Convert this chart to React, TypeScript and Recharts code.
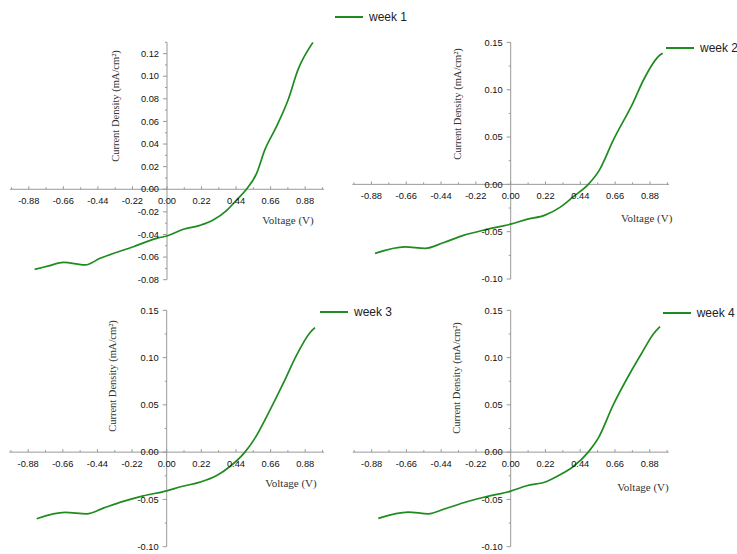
import React from 'react';
import { LineChart, Line, XAxis, YAxis, ReferenceLine } from 'recharts';

// voltage (V) / current density (mA/cm2)
const week1V = [-0.843, -0.76, -0.659, -0.521, -0.426, -0.214, -0.066, 0, 0.104, 0.21, 0.294, 0.379, 0.443, 0.506, 0.57, 0.623, 0.697, 0.771, 0.834, 0.93];
const week1J = [-0.0708, -0.068, -0.0646, -0.0669, -0.0611, -0.0508, -0.0434, -0.0413, -0.0354, -0.0319, -0.0272, -0.0189, -0.0095, 0.0, 0.0138, 0.0348, 0.0554, 0.079, 0.1056, 0.13];

const week2V = [-0.857, -0.668, -0.541, -0.426, -0.299, -0.152, 0, 0.101, 0.217, 0.311, 0.395, 0.49, 0.56, 0.648, 0.775, 0.838, 0.943, 0.96];
const week2J = [-0.0729, -0.066, -0.0677, -0.0617, -0.0539, -0.0476, -0.042, -0.037, -0.0325, -0.0243, -0.0131, 0.0, 0.0151, 0.0468, 0.087, 0.11, 0.1367, 0.1385];

const week3V = [-0.826, -0.646, -0.508, -0.403, -0.276, -0.149, 0, 0.095, 0.212, 0.318, 0.402, 0.497, 0.561, 0.635, 0.741, 0.826, 0.91, 0.942];
const week3J = [-0.0705, -0.0638, -0.0652, -0.0592, -0.0521, -0.0462, -0.0409, -0.0363, -0.0317, -0.0247, -0.0152, 0.0, 0.0148, 0.0376, 0.0729, 0.1028, 0.1263, 0.1316];

const week4V = [-0.838, -0.648, -0.522, -0.416, -0.278, -0.152, 0, 0.101, 0.228, 0.312, 0.396, 0.491, 0.554, 0.649, 0.755, 0.829, 0.903, 0.945];
const week4J = [-0.0701, -0.0634, -0.0652, -0.0599, -0.0525, -0.0469, -0.0412, -0.0356, -0.031, -0.024, -0.0152, 0.0, 0.0148, 0.05, 0.0834, 0.1046, 0.125, 0.1327];

const xMajor = [-0.88, -0.66, -0.44, -0.22, 0, 0.22, 0.44, 0.66, 0.88];
const xMinor = [-0.99, -0.77, -0.55, -0.33, -0.11, 0.11, 0.33, 0.55, 0.77, 0.99];

const yMajorA = [-0.08, -0.06, -0.04, -0.02, 0, 0.02, 0.04, 0.06, 0.08, 0.1, 0.12];
const yMinorA = [-0.07, -0.05, -0.03, -0.01, 0.01, 0.03, 0.05, 0.07, 0.09, 0.11, 0.13];
const yMajorB = [-0.1, -0.05, 0, 0.05, 0.1, 0.15];
const yMinorB = [-0.075, -0.025, 0.025, 0.075, 0.125];

const LINE_COLOR = '#1e8c1e';
const AXIS_COLOR = '#999';
const TEXT_COLOR = '#111';
const SANS = '"Liberation Sans", Arial, sans-serif';
const SERIF = '"Liberation Serif", "Times New Roman", serif';
const AXIS_SIZE = 1;

const panels = [
    {
        name: 'week 1', v: week1V, j: week1J, yDomain: [-0.08, 0.13], yMajor: yMajorA, yMinor: yMinorA,
        box: { left: 0, top: 0, width: 368, height: 290 },
        margin: { top: 42.3, right: 44, bottom: 10.3, left: 10 },
        xTitle: [288, 224], yTitle: [115, 106], legend: [335, 17],
    },
    {
        name: 'week 2', v: week2V, j: week2J, yDomain: [-0.1, 0.15], yMajor: yMajorB, yMinor: yMinorB,
        box: { left: 344, top: 0, width: 393, height: 290 },
        margin: { top: 42.4, right: 68, bottom: 11, left: 8.4 },
        xTitle: [302.7, 221.7], yTitle: [113.7, 104], legend: [322, 47.7],
    },
    {
        name: 'week 3', v: week3V, j: week3J, yDomain: [-0.1, 0.15], yMajor: yMajorB, yMinor: yMinorB,
        box: { left: 0, top: 290, width: 368, height: 264 },
        margin: { top: 20.3, right: 43.9, bottom: 7.3, left: 9.3 },
        xTitle: [291, 197.3], yTitle: [112.7, 86], legend: [320, 21.7],
    },
    {
        name: 'week 4', v: week4V, j: week4J, yDomain: [-0.1, 0.15], yMajor: yMajorB, yMinor: yMinorB,
        box: { left: 344, top: 290, width: 393, height: 264 },
        margin: { top: 20.3, right: 68.3, bottom: 7.3, left: 8.7 },
        xTitle: [299, 200.7], yTitle: [112.7, 88], legend: [318.7, 23.3],
    },
];

const Panel = ({ p }: { p: typeof panels[number] }) => {
    const data = p.v.map((v, i) => ({ v, j: p.j[i] }));
    // axes take AXIS_SIZE px, so pull the margins in by that much
    const margin = { ...p.margin, left: p.margin.left - AXIS_SIZE, bottom: p.margin.bottom - AXIS_SIZE };
    const plotW = p.box.width - p.margin.left - p.margin.right;
    const plotH = p.box.height - p.margin.top - p.margin.bottom;
    const zeroX = p.margin.left + plotW / 2;
    const zeroY = p.margin.top + (p.yDomain[1] / (p.yDomain[1] - p.yDomain[0])) * plotH;

    const renderXTick = (props: any) => {
        const { x, payload } = props;
        const major = xMajor.includes(payload.value);
        return (
            <g>
                <line x1={x} x2={x} y1={zeroY} y2={zeroY - (major ? 3 : 2)} stroke={AXIS_COLOR} />
                {major && (
                    <text x={x} y={zeroY + 15} textAnchor="middle" fontSize={9.3} fontFamily={SANS} fill={TEXT_COLOR}>
                        {payload.value.toFixed(2)}
                    </text>
                )}
            </g>
        );
    };

    const renderYTick = (props: any) => {
        const { y, payload } = props;
        const major = p.yMajor.includes(payload.value);
        return (
            <g>
                <line x1={zeroX} x2={zeroX - (major ? 4 : 2)} y1={y} y2={y} stroke={AXIS_COLOR} />
                {major && (
                    <text x={zeroX - 8} y={y + 3.2} textAnchor="end" fontSize={9.3} fontFamily={SANS} fill={TEXT_COLOR}>
                        {payload.value.toFixed(2)}
                    </text>
                )}
            </g>
        );
    };

    return (
        <div style={{ position: 'absolute', left: p.box.left, top: p.box.top, width: p.box.width, height: p.box.height }}>
            <LineChart width={p.box.width} height={p.box.height} data={data} margin={margin} style={{ overflow: 'visible' }}>
                <XAxis
                    dataKey="v" type="number" domain={[-1, 1]} ticks={[...xMinor, ...xMajor]} interval={0}
                    height={AXIS_SIZE} axisLine={false} tickLine={false} tick={renderXTick} allowDataOverflow
                    label={{
                        content: () => (
                            <text x={p.xTitle[0]} y={p.xTitle[1]} textAnchor="middle" fontSize={11} fontFamily={SERIF} fill="#333">
                                Voltage (V)
                            </text>
                        ),
                    }}
                />
                <YAxis
                    type="number" domain={p.yDomain} ticks={[...p.yMinor, ...p.yMajor]} interval={0}
                    width={AXIS_SIZE} axisLine={false} tickLine={false} tick={renderYTick} allowDataOverflow
                    label={{
                        content: () => (
                            <text
                                x={p.yTitle[0]} y={p.yTitle[1]} textAnchor="middle" dominantBaseline="central"
                                fontSize={10.5} fontFamily={SERIF} fill="#333"
                                transform={`rotate(-90, ${p.yTitle[0]}, ${p.yTitle[1]})`}
                            >
                                Current Density (mA/cm²)
                            </text>
                        ),
                    }}
                />
                <ReferenceLine x={0} stroke={AXIS_COLOR} />
                <ReferenceLine y={0} stroke={AXIS_COLOR} />
                <Line type="monotone" dataKey="j" stroke={LINE_COLOR} strokeWidth={1.7} dot={false} isAnimationActive={false} />
            </LineChart>
            <div style={{ position: 'absolute', left: p.legend[0], top: p.legend[1] - 8, height: 16, display: 'flex', alignItems: 'center', whiteSpace: 'nowrap' }}>
                <svg width={28} height={4} style={{ marginRight: 6 }}>
                    <line x1={0} x2={28} y1={2} y2={2} stroke={LINE_COLOR} strokeWidth={2} />
                </svg>
                <span style={{ fontFamily: SANS, fontSize: 12, color: '#222' }}>{p.name}</span>
            </div>
        </div>
    );
};

export default function App() {
    return (
        <div style={{ position: 'absolute', left: 0, top: 0, width: 737, height: 554, background: '#fff', overflow: 'hidden' }}>
            {panels.map((p) => (
                <Panel key={p.name} p={p} />
            ))}
        </div>
    );
}
